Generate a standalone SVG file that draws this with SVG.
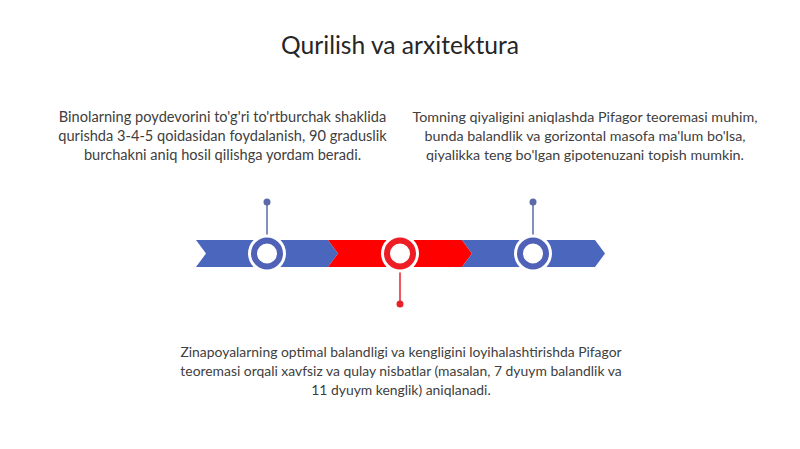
<svg xmlns="http://www.w3.org/2000/svg" width="800" height="449" viewBox="0 0 800 449">
<style>
.t{font-family:Lato,"Liberation Sans",sans-serif;font-size:14.3px;fill:#404040;text-anchor:middle}
.h{font-family:Lato,"Liberation Sans",sans-serif;font-size:24.6px;fill:#262626;text-anchor:middle}
.blue{fill:#4a66bd}
.red{fill:#ff0000}
</style>
<rect width="800" height="449" fill="#ffffff"/>
<text class="h" x="400" y="54">Qurilish va arxitektura</text>
<g id="band">
<polygon class="blue" points="196,240 328,240 338,253.5 328,267 196,267 206,253.5"/>
<polygon class="red" points="328,240 462,240 472,253.5 462,267 328,267 338,253.5"/>
<polygon class="blue" points="462,240 595,240 605,253.5 595,267 462,267 472,253.5"/>
</g>
<g id="connectors">
<line x1="267" y1="202" x2="267" y2="236" stroke="#5b6aa8" stroke-width="1.5"/>
<circle cx="267" cy="202" r="3.5" fill="#5b6aa8"/>
<line x1="533" y1="202" x2="533" y2="236" stroke="#5b6aa8" stroke-width="1.5"/>
<circle cx="533" cy="202" r="3.5" fill="#5b6aa8"/>
<line x1="400" y1="271" x2="400" y2="304" stroke="#e8202a" stroke-width="1.5"/>
<circle cx="400" cy="304" r="3.5" fill="#e8202a"/>
</g>
<g id="node1">
<circle cx="267" cy="253.5" r="19" fill="#ffffff"/>
<circle cx="267" cy="253.5" r="13" fill="#ffffff" stroke="#4f62b8" stroke-width="6"/>
<text class="t" x="222.5" y="122" style="font-size:14.6px">Binolarning poydevorini to'g'ri to'rtburchak shaklida</text>
<text class="t" x="222.5" y="141" style="font-size:14.6px">qurishda 3-4-5 qoidasidan foydalanish, 90 graduslik</text>
<text class="t" x="222.5" y="160" style="font-size:14.6px">burchakni aniq hosil qilishga yordam beradi.</text>
</g>
<g id="node2">
<circle cx="400" cy="253.5" r="19" fill="#ffffff"/>
<circle cx="400" cy="253.5" r="13" fill="#ffffff" stroke="#ee1c24" stroke-width="6"/>
<text class="t" x="401" y="357" style="font-size:13.9px">Zinapoyalarning optimal balandligi va kengligini loyihalashtirishda Pifagor</text>
<text class="t" x="401" y="376" style="font-size:13.9px">teoremasi orqali xavfsiz va qulay nisbatlar (masalan, 7 dyuym balandlik va</text>
<text class="t" x="401" y="395" style="font-size:13.9px">11 dyuym kenglik) aniqlanadi.</text>
</g>
<g id="node3">
<circle cx="533" cy="253.5" r="19" fill="#ffffff"/>
<circle cx="533" cy="253.5" r="13" fill="#ffffff" stroke="#4f62b8" stroke-width="6"/>
<text class="t" x="585" y="122">Tomning qiyaligini aniqlashda Pifagor teoremasi muhim,</text>
<text class="t" x="585" y="141">bunda balandlik va gorizontal masofa ma'lum bo'lsa,</text>
<text class="t" x="585" y="160">qiyalikka teng bo'lgan gipotenuzani topish mumkin.</text>
</g>
</svg>
